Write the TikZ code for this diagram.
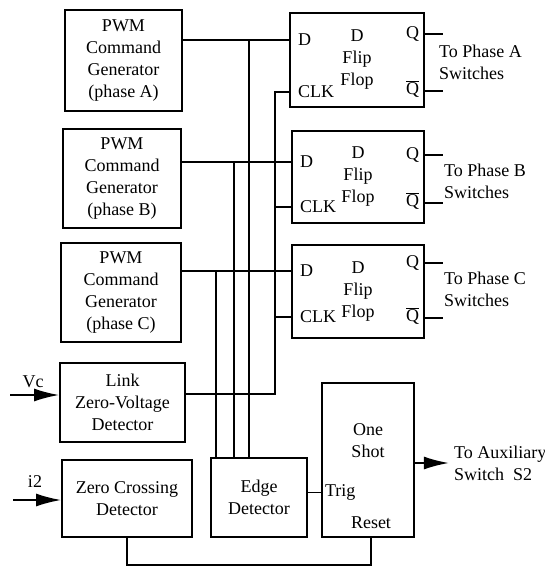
\documentclass[tikz,border=0pt]{standalone}
\usepackage{fontspec}
\setmainfont{Liberation Serif}
\usepackage{tikz}
\usetikzlibrary{calc}
\usetikzlibrary{positioning}
\usetikzlibrary{arrows.meta}

\begin{document}
\begin{tikzpicture}[x=1pt,y=-1pt,line width=1.8pt,
    every node/.style={font=\fontsize{18}{22}\selectfont},
    blk/.style={draw,align=center,inner sep=0pt},
    port/.style={inner sep=0pt},
    arr/.style={-{Latex[length=25pt,width=13pt]}}]
				\useasboundingbox (0,0) rectangle (545,566);
				% left column
				\node[blk,minimum width=117pt,minimum height=101pt] (pwmA) at (123.5,60.5) {PWM\\Command\\Generator\\(phase A)};
				\node[blk,minimum width=118pt,minimum height=99pt] (pwmB) at (122,178.5) {PWM\\Command\\Generator\\(phase B)};
				\node[blk,minimum width=120pt,minimum height=99pt] (pwmC) at (121,292.5) {PWM\\Command\\Generator\\(phase C)};
				\node[blk,minimum width=125pt,minimum height=79pt] (zvd) at (122.5,402.5) {Link\\Zero-Voltage\\Detector};
				\node[blk,minimum width=130pt,minimum height=77pt] (zcd) at (127,498.5) {Zero Crossing\\Detector};
				\node[blk,minimum width=96pt,minimum height=79pt] (edge) at (259,497.5) {Edge\\Detector};
				\node[blk,minimum width=92pt,minimum height=154pt] (shot) at (368,460) {};
				\node[align=center] (shottxt) at (368,441) {One\\Shot};
				% flip flops
				\node[blk,minimum width=134pt,minimum height=94pt] (ffA) at (357,60) {D\\Flip\\Flop};
				\node[blk,minimum width=132pt,minimum height=92pt] (ffB) at (358,177) {D\\Flip\\Flop};
				\node[blk,minimum width=132pt,minimum height=93pt] (ffC) at (358,291.5) {D\\Flip\\Flop};
				% ports
				\coordinate (dA) at ($(ffA.west)+(0,-20)$);
				\coordinate (clkA) at ($(ffA.west)+(0,32)$);
				\coordinate (qA) at ($(ffA.east)+(0,-26)$);
				\coordinate (nqA) at ($(ffA.east)+(0,31)$);
				\coordinate (dB) at ($(ffB.west)+(0,-15)$);
				\coordinate (clkB) at ($(ffB.west)+(0,30)$);
				\coordinate (qB) at ($(ffB.east)+(0,-22)$);
				\coordinate (nqB) at ($(ffB.east)+(0,26)$);
				\coordinate (dC) at ($(ffC.west)+(0,-20.5)$);
				\coordinate (clkC) at ($(ffC.west)+(0,25.5)$);
				\coordinate (qC) at ($(ffC.east)+(0,-28.5)$);
				\coordinate (nqC) at ($(ffC.east)+(0,26.5)$);
				\node[port,anchor=west] at ($(dA)+(8,0)$) {D};
				\node[port,anchor=west] at ($(clkA)+(8,0)$) {CLK};
				\node[port,anchor=east] at ($(qA)+(-5,0)$) {Q};
				\node[port,anchor=east] at ($(nqA)+(-5,-2)$) {$\overline{\hbox{Q}}$};
				\node[port,anchor=west] at ($(dB)+(8,0)$) {D};
				\node[port,anchor=west] at ($(clkB)+(8,0)$) {CLK};
				\node[port,anchor=east] at ($(qB)+(-5,0)$) {Q};
				\node[port,anchor=east] at ($(nqB)+(-5,-2)$) {$\overline{\hbox{Q}}$};
				\node[port,anchor=west] at ($(dC)+(8,0)$) {D};
				\node[port,anchor=west] at ($(clkC)+(8,0)$) {CLK};
				\node[port,anchor=east] at ($(qC)+(-5,0)$) {Q};
				\node[port,anchor=east] at ($(nqC)+(-5,-2)$) {$\overline{\hbox{Q}}$};
				% outputs
				\coordinate (oqA) at ($(qA)+(18,0)$);
				\coordinate (onqA) at ($(nqA)+(18,0)$);
				\coordinate (oqB) at ($(qB)+(18,0)$);
				\coordinate (onqB) at ($(nqB)+(18,0)$);
				\coordinate (oqC) at ($(qC)+(18,0)$);
				\coordinate (onqC) at ($(nqC)+(18,0)$);
				\draw (qA) -- (oqA);
				\draw (nqA) -- (onqA);
				\draw (qB) -- (oqB);
				\draw (nqB) -- (onqB);
				\draw (qC) -- (oqC);
				\draw (nqC) -- (onqC);
				\node[anchor=west,align=left] (phA) at (435,62) {To Phase A\\Switches};
				\node[anchor=west,align=left] (phB) at (440,181) {To Phase B\\Switches};
				\node[anchor=west,align=left] (phC) at (440,289) {To Phase C\\Switches};
				% D lines and edge detector taps
				\draw (pwmA.east |- dA) -- (dA);
				\draw (pwmB.east |- dB) -- (dB);
				\draw (pwmC.east |- dC) -- (dC);
				\coordinate (tA) at ($(edge.north)+(-10,0)$);
				\coordinate (tB) at ($(edge.north)+(-25,0)$);
				\coordinate (tC) at ($(edge.north)+(-43,0)$);
				\draw (tA |- dA) -- (tA);
				\draw (tB |- dB) -- (tB);
				\draw (tC |- dC) -- (tC);
				% clock bus
				\coordinate (zvdout) at ($(zvd.east)+(89,-8.5)$);
				\draw (zvd.east |- zvdout) -- (zvdout) |- (clkA);
				\draw (zvdout |- clkB) -- (clkB);
				\draw (zvdout |- clkC) -- (clkC);
				% one shot
				\coordinate (trig) at ($(edge.east)+(0,-5)$);
				\draw (trig) -- (trig -| shot.west);
				\node[port,anchor=west] at ($(trig -| shot.west)+(3,0)$) {Trig};
				\node[port] at ($(shot.south)+(3,-15)$) {Reset};
				\draw (zcd.south) -- ++(0,27) -| ($(shot.south)+(3,0)$);
				\coordinate (aux) at ($(shot.east)+(34,3)$);
				\draw[arr] (shot.east |- aux) -- (aux);
				\node[anchor=west,align=left] (auxtxt) at ($(aux)+(1,0)$) {To Auxiliary\\Switch\ \ S2};
				% inputs
				\coordinate (vcin) at ($(zvd.west)+(-49,-7.5)$);
				\coordinate (i2in) at ($(zcd.west)+(-48,1.5)$);
				\draw[arr] (vcin) -- (vcin -| zvd.west);
				\draw[arr] (i2in) -- (i2in -| zcd.west);
				\node (vc) at (33,382) {Vc};
				\node (i2) at (35,482) {i2};
			\end{tikzpicture}
\end{document}
